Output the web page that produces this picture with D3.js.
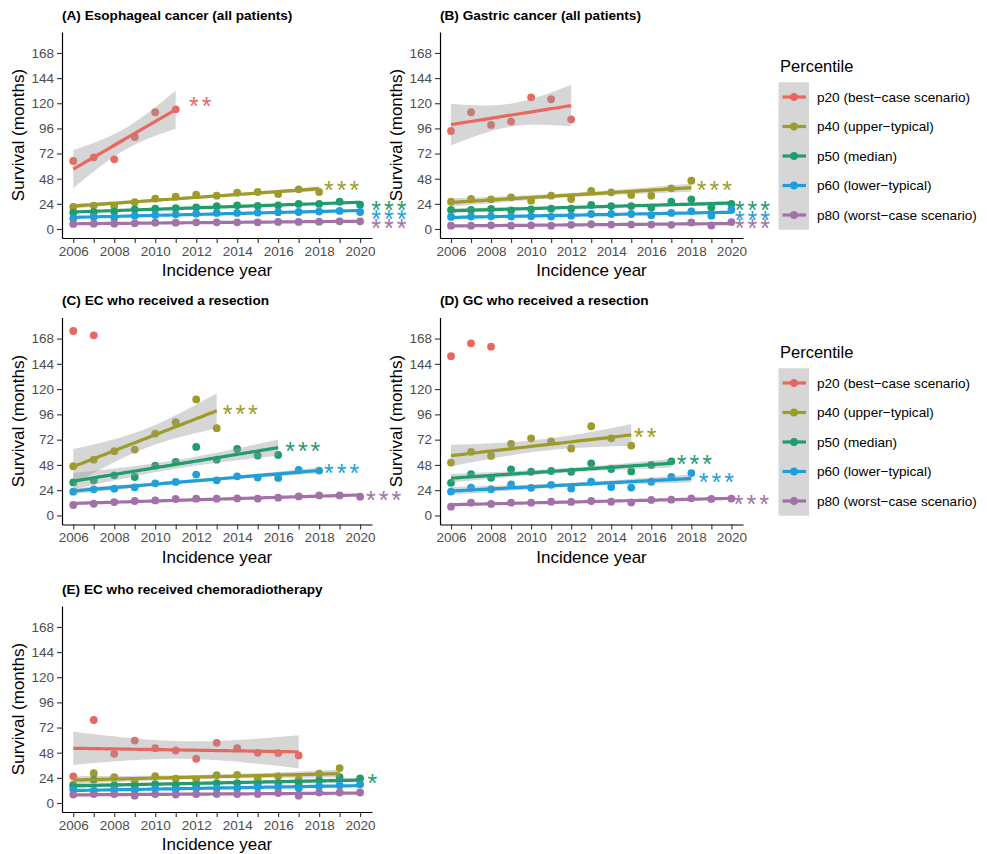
<!DOCTYPE html>
<html>
<head>
<meta charset="utf-8">
<script src="https://cdn.jsdelivr.net/npm/d3@7"></script>
<style>
  body { margin: 0; background: #fff; }
  text { font-family: "Liberation Sans", Arial, sans-serif; }
</style>
</head>
<body>
<svg id="chart" width="987" height="854"></svg>
<script>
// ---- data ----
const years = [2006, 2007, 2008, 2009, 2010, 2011, 2012, 2013, 2014, 2015, 2016, 2017, 2018, 2019, 2020];
const xLabelYears = [2006, 2008, 2010, 2012, 2014, 2016, 2018, 2020];
const yTicks = [0, 24, 48, 72, 96, 120, 144, 168];
const percentiles = ['p20', 'p40', 'p50', 'p60', 'p80'];
const legendLabels = ['p20 (best\u2212case scenario)', 'p40 (upper\u2212typical)', 'p50 (median)',
                      'p60 (lower\u2212typical)', 'p80 (worst\u2212case scenario)'];
const panelTitles = ['(A) Esophageal cancer (all patients)', '(B) Gastric cancer (all patients)',
                     '(C) EC who received a resection', '(D) GC who received a resection',
                     '(E) EC who received chemoradiotherapy'];

// survival in months per percentile (rows p20..p80), one value per year, null = no data
const valuesA = [
  [64.9, 68.4, 66.5, 87.8, 111.4, 114.2, null, null, null, null, null, null, null, null, null],
  [21.0, 22.3, 22.0, 25.5, 28.9, 30.9, 32.8, 31.8, 34.7, 35.3, 33.4, 37.9, 35.3, null, null],
  [15.6, 16.0, 16.6, 18.8, 19.4, 20.0, 20.7, 21.7, 22.6, 22.0, 22.6, 23.9, 23.9, 26.0, 23.2],
  [10.2, 11.5, 10.8, 12.7, 13.4, 14.0, 14.6, 15.3, 15.3, 15.6, 16.0, 16.2, 16.6, 17.2, 16.2],
  [4.8, 5.1, 5.1, 5.4, 6.0, 6.0, 6.4, 6.4, 6.4, 6.4, 6.7, 6.7, 7.0, 7.3, 7.3]
];
const valuesB = [
  [93.5, 111.4, 99.3, 102.5, 125.7, 123.8, 104.7, null, null, null, null, null, null, null, null],
  [26.0, 28.6, 28.3, 30.2, 27.0, 31.8, 28.6, 36.3, 35.0, 32.5, 31.8, 38.8, 46.1, null, null],
  [18.1, 18.1, 19.1, 17.8, 18.8, 19.4, 19.4, 22.9, 21.9, 21.9, 20.4, 26.0, 28.3, 20.4, 23.9],
  [11.5, 11.8, 12.1, 11.8, 12.1, 11.8, 12.7, 14.3, 14.3, 14.3, 13.1, 15.3, 16.9, 12.7, 18.1],
  [3.2, 3.2, 3.5, 3.2, 3.5, 3.2, 4.0, 4.5, 4.2, 4.2, 4.2, 4.0, 6.2, 3.4, 6.6]
];
const valuesC = [
  [175.2, 171.1, null, null, null, null, null, null, null, null, null, null, null, null, null],
  [46.7, 53.0, 61.0, 62.6, 77.8, 88.6, 110.2, 82.9, null, null, null, null, null, null, null],
  [31.4, 33.4, 38.1, 36.5, 47.3, 50.8, 65.1, 53.0, 63.1, 56.9, 57.5, null, null, null, null],
  [22.6, 24.8, 25.4, 26.7, 30.5, 31.8, 38.8, 33.4, 37.2, 36.0, 35.6, 43.2, 42.6, null, null],
  [9.9, 11.1, 12.7, 13.7, 14.3, 15.6, 15.9, 15.9, 16.2, 15.9, 16.9, 18.1, 19.0, 19.0, 17.8]
];
const valuesD = [
  [151.3, 163.5, 160.3, null, null, null, null, null, null, null, null, null, null, null, null],
  [50.2, 60.4, 56.5, 68.0, 73.2, 70.3, 63.6, 84.7, 73.2, 66.4, null, null, null, null, null],
  [31.0, 39.3, 35.8, 43.8, 41.5, 42.2, 41.5, 49.5, 44.1, 41.8, 47.9, 51.4, null, null, null],
  [22.7, 26.5, 24.9, 29.4, 26.2, 29.1, 25.5, 32.0, 27.0, 26.5, 32.0, 36.7, 40.2, null, null],
  [8.3, 12.1, 10.9, 12.1, 12.1, 13.1, 12.8, 13.7, 13.1, 12.4, 14.7, 15.0, 16.3, 15.7, 16.0]
];
const valuesE = [
  [25.4, 79.2, 46.9, 59.6, 52.3, 50.1, 42.2, 57.4, 52.3, 47.9, 47.6, 45.3, null, null, null],
  [17.5, 28.5, 24.7, 21.0, 25.7, 23.2, 22.6, 26.6, 26.9, 23.5, 25.4, 22.5, 27.9, 33.3, null],
  [16.0, 22.3, 17.0, 16.0, 18.0, 17.0, 17.0, 19.0, 19.0, 18.0, 19.0, 19.0, 21.6, 24.7, 23.5],
  [13.0, 12.0, 13.0, 12.0, 14.0, 13.0, 14.0, 14.0, 14.0, 15.0, 15.0, 14.0, 16.0, 17.0, 17.8],
  [8.0, 8.5, 8.5, 7.0, 8.5, 8.0, 8.5, 8.5, 8.5, 8.5, 9.5, 7.0, 9.9, 10.0, 10.0]
];

// significance marks: [series index, year, months, number of asterisks]
const starsA = [[0, 2012.2, 122.5, 2], [1, 2019.1, 42, 3], [2, 2021.4, 22.9, 3], [3, 2021.4, 14.5, 3], [4, 2021.4, 5.8, 3]];
const starsB = [[1, 2019.15, 42, 3], [2, 2021.05, 22.9, 3], [3, 2021.05, 13.6, 3], [4, 2021.05, 6, 3]];
const starsC = [[1, 2014.15, 101.6, 3], [2, 2017.2, 66.4, 3], [3, 2019.1, 45.7, 3], [4, 2021.15, 19.7, 3]];
const starsD = [[1, 2015.7, 80.2, 2], [2, 2018.15, 54, 3], [3, 2019.25, 37.4, 3], [4, 2021.0, 16, 3]];
const starsE = [[2, 2020.6, 24.1, 1]];

const panelValues = [valuesA, valuesB, valuesC, valuesD, valuesE];
const panelStars = [starsA, starsB, starsC, starsD, starsE];

// ---- styling / layout ----
const colors = ['#E8685F', '#9E9B27', '#1F9D6D', '#1E9FDA', '#A271A7'];
const ribbonFill = 'rgba(153,153,153,0.4)';
const boxes = [
  {x0: 62, x1: 372, y0: 32, y1: 238},
  {x0: 440, x1: 743, y0: 32, y1: 238},
  {x0: 62, x1: 372, y0: 317.5, y1: 524.5},
  {x0: 440, x1: 743, y0: 317.5, y1: 524.5},
  {x0: 62, x1: 372, y0: 606, y1: 812}
];
const legendTops = [72, 358];

// two-sided 95% t quantiles, df = 1..20
const tQuant = [12.706, 4.303, 3.182, 2.776, 2.571, 2.447, 2.365, 2.306, 2.262, 2.228,
                2.201, 2.179, 2.160, 2.145, 2.131, 2.120, 2.110, 2.101, 2.093, 2.086];

// linear fit with 95% confidence band, like geom_smooth(method = "lm")
function lmBand(pts) {
  const n = pts.length;
  const mx = d3.mean(pts, d => d.x), my = d3.mean(pts, d => d.y);
  const sxx = d3.sum(pts, d => (d.x - mx) ** 2);
  const b = d3.sum(pts, d => (d.x - mx) * (d.y - my)) / sxx;
  const a = my - b * mx;
  const rss = d3.sum(pts, d => (d.y - a - b * d.x) ** 2);
  const s = Math.sqrt(rss / (n - 2));
  const t = tQuant[n - 3];
  const lo = d3.min(pts, d => d.x), hi = d3.max(pts, d => d.x);
  return d3.range(80).map(i => {
    const x = lo + (hi - lo) * i / 79;
    const fit = a + b * x;
    const se = s * Math.sqrt(1 / n + (x - mx) ** 2 / sxx);
    return {x, fit, low: fit - t * se, high: fit + t * se};
  });
}

const svg = d3.select('#chart');

panelValues.forEach((vals, pi) => {
  const box = boxes[pi];
  const x = d3.scaleLinear().domain([2005.45, 2020.58]).range([box.x0, box.x1]);
  const y = d3.scaleLinear().domain([-8.6, 188]).range([box.y1, box.y0]);
  const g = svg.append('g');

  // series as point lists
  const series = vals.map(row => row
    .map((v, i) => ({x: years[i], y: v}))
    .filter(d => d.y !== null));

  // points layer
  series.forEach((pts, si) => {
    g.append('g').selectAll('circle')
      .data(pts)
      .join('circle')
      .attr('cx', d => x(d.x))
      .attr('cy', d => y(d.y))
      .attr('r', 3.9)
      .attr('fill', colors[si]);
  });

  // smooth layer: ribbon then line for each series with enough points
  series.forEach((pts, si) => {
    if (pts.length < 4) return;
    const band = lmBand(pts);
    g.append('path')
      .datum(band)
      .attr('fill', ribbonFill)
      .attr('d', d3.area().x(d => x(d.x)).y0(d => y(d.low)).y1(d => y(d.high)));
    g.append('path')
      .datum(band)
      .attr('fill', 'none')
      .attr('stroke', colors[si])
      .attr('stroke-width', 3.2)
      .attr('d', d3.line().x(d => x(d.x)).y(d => y(d.fit)));
  });

  // asterisks
  const fs = 25, gap = 12.7;
  panelStars[pi].forEach(([si, yr, v, k]) => {
    for (let j = 0; j < k; j++) {
      g.append('text')
        .attr('x', x(yr) + (j - (k - 1) / 2) * gap)
        .attr('y', y(v) + 0.58 * fs)
        .attr('text-anchor', 'middle')
        .attr('font-size', fs)
        .attr('fill', colors[si])
        .text('*');
    }
  });

  // axes
  const yAxis = g.append('g')
    .attr('transform', `translate(${box.x0},0)`)
    .call(d3.axisLeft(y).tickValues(yTicks).tickSize(5).tickSizeOuter(0).tickPadding(3));
  const xAxis = g.append('g')
    .attr('transform', `translate(0,${box.y1})`)
    .call(d3.axisBottom(x).tickValues(years).tickSize(5).tickSizeOuter(0).tickPadding(3)
      .tickFormat(d => xLabelYears.includes(d) ? d : ''));
  [yAxis, xAxis].forEach(ax => {
    ax.select('.domain').attr('stroke', '#000').attr('stroke-width', 1.2);
    ax.selectAll('.tick line').attr('stroke', '#333').attr('stroke-width', 1.1);
    ax.selectAll('.tick text').attr('fill', '#4D4D4D').attr('font-size', 13.5)
      .attr('font-family', '"Liberation Sans", Arial, sans-serif');
  });

  // titles
  g.append('text')
    .attr('x', box.x0).attr('y', box.y0 - 12.5)
    .attr('font-size', 13.6).attr('font-weight', 'bold')
    .text(panelTitles[pi]);
  g.append('text')
    .attr('x', (box.x0 + box.x1) / 2).attr('y', box.y1 + 38)
    .attr('text-anchor', 'middle').attr('font-size', 17)
    .text('Incidence year');
  g.append('text')
    .attr('transform', `translate(${box.x0 - 38.5},${(box.y0 + box.y1) / 2}) rotate(-90)`)
    .attr('text-anchor', 'middle').attr('font-size', 17)
    .text('Survival (months)');
});

// legends
legendTops.forEach(top => {
  const lg = svg.append('g');
  lg.append('text').attr('x', 780).attr('y', top).attr('font-size', 16.5).text('Percentile');
  percentiles.forEach((p, i) => {
    const cy = top + 25 + i * 29.5;
    lg.append('rect').attr('x', 778.5).attr('y', cy - 14.75).attr('width', 30.5).attr('height', 29.5)
      .attr('fill', ribbonFill);
    lg.append('line').attr('x1', 782.5).attr('x2', 806).attr('y1', cy).attr('y2', cy)
      .attr('stroke', colors[i]).attr('stroke-width', 3.2);
    lg.append('circle').attr('cx', 794).attr('cy', cy).attr('r', 3.9).attr('fill', colors[i]);
    lg.append('text').attr('x', 817).attr('y', cy).attr('dy', '0.35em')
      .attr('font-size', 13.6).text(legendLabels[i]);
  });
});
</script>
</body>
</html>
